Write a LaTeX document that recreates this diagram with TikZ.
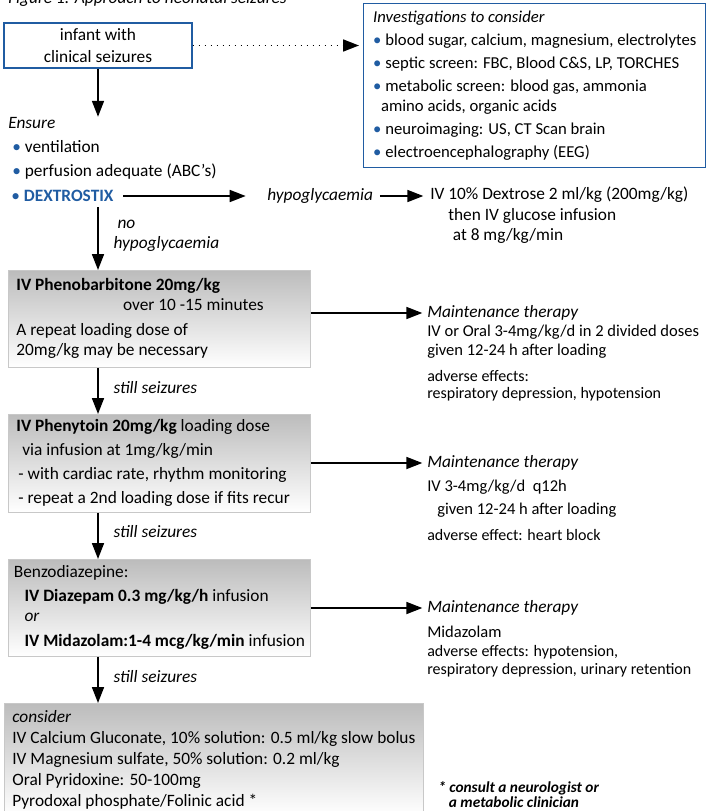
\documentclass[tikz,border=0pt]{standalone}
\usepackage{fontspec}
\setmainfont{Carlito}
\usepackage{tikz}
\usetikzlibrary{arrows.meta,positioning,shadings}
\usepackage{xcolor}
\definecolor{flowblue}{RGB}{32,92,162}
\definecolor{boxgrey}{RGB}{188,188,188}
\definecolor{boxline}{RGB}{200,200,200}
\newcommand{\bul}{{\color{flowblue}\textbullet}\hspace{3pt}}

\begin{document}
\begin{tikzpicture}[x=0.75pt, y=-0.75pt,
    startbox/.style={rectangle, draw=flowblue, line width=1.1pt, fill=white,
        minimum width=141pt, minimum height=33.75pt, align=center,
        font=\fontsize{13}{16.5}\selectfont},
    invbox/.style={rectangle, draw=flowblue, line width=1.1pt, fill=white,
        anchor=north west, minimum width=256.5pt, minimum height=123pt,
        align=left, font=\fontsize{12.5}{17.25}\selectfont},
    drugbox/.style={rectangle, draw=boxline, line width=0.6pt,
        top color=boxgrey, bottom color=white, anchor=north west,
        minimum width=226.5pt, inner xsep=3pt, align=flush left,
        font=\fontsize{13}{15}\selectfont},
    txt/.style={anchor=west, inner sep=0pt, align=left,
        font=\fontsize{13}{15}\selectfont},
    small/.style={txt, font=\fontsize{12}{12.75}\selectfont},
    lbl/.style={txt, font=\itshape\fontsize{13}{15}\selectfont},
    arr/.style={-{Triangle[length=12pt,width=9pt]}, line width=1.3pt},
    darr/.style={arr, dash pattern=on 1.3pt off 3.2pt}
]
\useasboundingbox (0,0) rectangle (706,811);

% Caption, cut by the top edge
\node[lbl, anchor=base west] (caption) at (8,3) {Figure 1: Approach to neonatal seizures};

% Presentation and investigations
\node[startbox] (infant) at (98,45.5) {infant with\\clinical seizures};
\node[invbox] (invest) at (363,3) {\textit{Investigations to consider}\\
    \bul blood sugar, calcium, magnesium, electrolytes\\
    \bul septic screen: FBC, Blood C\&S, LP, TORCHES\\
    \bul metabolic screen: blood gas, ammonia\\[-2pt]
    \hspace*{6pt}amino acids, organic acids\\
    \bul neuroimaging: US, CT Scan brain\\
    \bul electroencephalography (EEG)};
\draw[darr, shorten >=3pt] (infant) -- (infant -| invest.west);

% Resuscitation and glucose check
\node[txt, font=\fontsize{13}{18}\selectfont] (ensure) at (8,148) {\textit{Ensure}\\
    \hspace*{3pt}\bul ventilation\\
    \hspace*{3pt}\bul perfusion adequate (ABC’s)};
\node[txt] (dextro) at (11,196) {\bul\textcolor{flowblue}{\textbf{DEXTROSTIX}}};
\node[lbl] (hypo) at (267,196) {hypoglycaemia};
\node[txt, font=\fontsize{13}{15.4}\selectfont] (dex) at (430,215.5) {IV 10\% Dextrose 2 ml/kg (200mg/kg)\\
    \hspace*{13.5pt}then IV glucose infusion\\
    \hspace*{17pt}at 8 mg/kg/min};

\draw[arr] (infant) -- (infant |- ensure.north);
\draw[arr, shorten <=7pt, shorten >=16pt] (dextro) -- (hypo);
\draw[arr, shorten <=5pt, shorten >=5pt] (hypo) -- (hypo -| dex.west);

% Drug steps
\node[drugbox, inner xsep=6pt, text width=214.5pt, minimum height=72.75pt] (pheno) at (8,270) {\textbf{IV Phenobarbitone 20mg/kg}\\
    \hspace*{80pt}over 10 -15 minutes\\[3.75pt]
    A repeat loading dose of\\
    20mg/kg may be necessary};
\node[drugbox, inner xsep=6pt, text width=214.5pt, minimum height=73.5pt, font=\fontsize{13}{18}\selectfont] (phenyt) at (8,414) {\textbf{IV Phenytoin 20mg/kg} loading dose\\
    \hspace*{4.5pt}via infusion at 1mg/kg/min\\
    \hspace*{1.5pt}- with cardiac rate, rhythm monitoring\\
    \hspace*{1.5pt}\mbox{- repeat a 2nd loading dose if fits recur}};
\node[drugbox, minimum height=72.75pt] (benzo) at (8,559) {Benzodiazepine:\\[3pt]
    \hspace*{8pt}\textbf{IV Diazepam 0.3 mg/kg/h} infusion\\
    \hspace*{8pt}\textit{or}\\[3.75pt]
    \hspace*{8pt}\textbf{IV Midazolam:1-4 mcg/kg/min} infusion};
\node[drugbox, minimum width=314.25pt, minimum height=84pt, font=\fontsize{13}{15.75}\selectfont] (consider) at (4,703) {\textit{consider}\\
    IV Calcium Gluconate, 10\% solution: 0.5 ml/kg slow bolus\\
    IV Magnesium sulfate, 50\% solution: 0.2 ml/kg\\
    Oral Pyridoxine: 50-100mg\\
    Pyrodoxal phosphate/Folinic acid *};

\draw[arr, shorten <=4pt] (dextro.south -| infant) -- (pheno.north -| infant)
    node[lbl, midway, right=11pt] {\hspace*{3pt}no\\hypoglycaemia};
\draw[arr] (pheno.south -| infant) -- (phenyt.north -| infant)
    node[lbl, pos=0.42, right=11pt] {still seizures};
\draw[arr] (phenyt.south -| infant) -- (benzo.north -| infant)
    node[lbl, pos=0.4, right=11pt] {still seizures};
\draw[arr] (benzo.south -| infant) -- (consider.north -| infant)
    node[lbl, pos=0.42, right=11pt] {still seizures};

% Maintenance therapy
\node[lbl] (mhead1) at (427,313) {Maintenance therapy};
\node[txt, font=\fontsize{12.4}{14.25}\selectfont] (mbody1) at (427,341.5) {IV or Oral 3-4mg/kg/d in 2 divided doses\\
    given 12-24 h after loading};
\node[small] (madv1) at (427,385.5) {adverse effects:\\respiratory depression, hypotension};

\node[lbl] (mhead2) at (427,463) {Maintenance therapy};
\node[txt, font=\fontsize{12.4}{17.25}\selectfont] (mbody2) at (427,498.5) {IV 3-4mg/kg/d\ \ q12h\\
    \hspace*{7.5pt}given 12-24 h after loading};
\node[small] (madv2) at (427,535) {adverse effect: heart block};

\node[lbl] (mhead3) at (427,608) {Maintenance therapy};
\node[txt, font=\fontsize{12.4}{15}\selectfont] (mbody3) at (427,632) {Midazolam};
\node[small, font=\fontsize{12}{13.5}\selectfont] (madv3) at (427,661) {adverse effects: hypotension,\\
    respiratory depression, urinary retention};

\draw[arr, shorten >=3.5pt] (pheno.east |- mhead1) -- (mhead1);
\draw[arr, shorten >=3.5pt] (phenyt.east |- mhead2) -- (mhead2);
\draw[arr, shorten >=3.5pt] (benzo.east |- mhead3) -- (mhead3);

% Footnote
\node[txt, font=\bfseries\itshape\fontsize{11.5}{11.25}\selectfont] (consult) at (438,794.5) {* consult a neurologist or\\
    \hspace*{8pt}a metabolic clinician};
\end{tikzpicture}
\end{document}
